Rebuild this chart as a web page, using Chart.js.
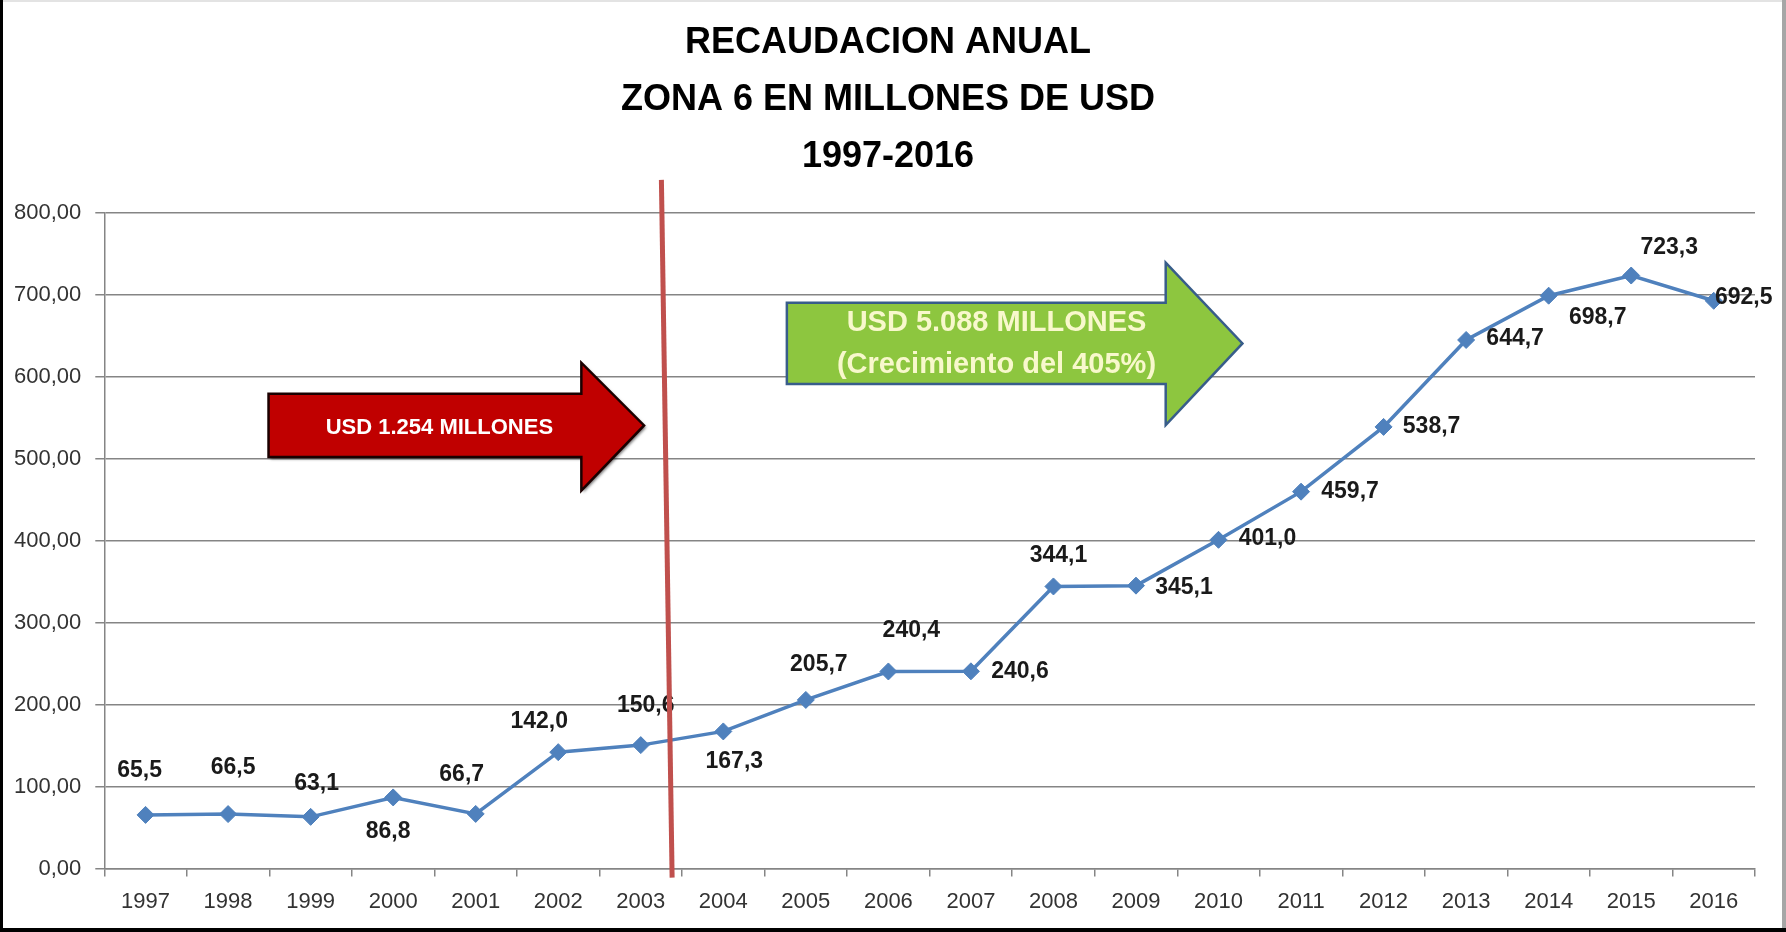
<!DOCTYPE html>
<html>
<head>
<meta charset="utf-8">
<script src="https://cdn.jsdelivr.net/npm/chart.js@4.4.1/dist/chart.umd.min.js"></script>
<style>
  html, body { margin: 0; padding: 0; background: #ffffff; }
  #wrap { width: 1786px; height: 932px; position: relative; }
  canvas { display: block; }
</style>
</head>
<body>
<div id="wrap"><canvas id="c" width="1786" height="932"></canvas></div>
<script>
// ---- data ----
const years = ['1997','1998','1999','2000','2001','2002','2003','2004','2005','2006',
               '2007','2008','2009','2010','2011','2012','2013','2014','2015','2016'];
const recaudacion = [65.5, 66.5, 63.1, 86.8, 66.7, 142.0, 150.6, 167.3, 205.7, 240.4,
                     240.6, 344.1, 345.1, 401.0, 459.7, 538.7, 644.7, 698.7, 723.3, 692.5];
const yTickValues = [0, 100, 200, 300, 400, 500, 600, 700, 800];
const titleLines = ['RECAUDACION ANUAL', 'ZONA 6 EN MILLONES DE USD', '1997-2016'];
const redArrowText = ['USD 1.254 MILLONES'];
const greenArrowText = ['USD 5.088 MILLONES', '(Crecimiento del 405%)'];

// ---- styles / placements (not data) ----
const FONT = '"Liberation Sans", Arial, sans-serif';
const LINE_COLOR = '#4f81bd';
// label offsets in pixels relative to each point
const labelOffsets = [
  [-6,-44],[5,-46],[6,-33],[-5,34],[-14,-39],[-19,-31],[5,-39],[11,30],[13,-35],[23,-41],
  [49,0],[5,-31],[48,2],[49,-1],[49,0],[48,0],[49,-1],[49,22],[38,-28],[30,-3]
];
// annotation geometry in scale units (x: category index, y: value)
const redArrow = { x0: 1.49, x1: 5.28, xTip: 6.04, yTop: 579, yBot: 502, headTop: 617, headBot: 461,
  fill: '#c00000', stroke: '#1a0000', textColor: '#ffffff', textX: 3.56, textY: [537], fontSize: 22 };
const greenArrow = { x0: 7.77, x1: 12.36, xTip: 13.29, yTop: 690, yBot: 591, headTop: 739, headBot: 541,
  fill: '#8dc63f', stroke: '#385d8a', textColor: '#f8f8cc', textX: 10.31, textY: [665, 614], fontSize: 29 };
const divider = { xTop: 6.25, yTop: 840, xBot: 6.38, yBot: -11, color: '#c0504d', width: 5 };
const TITLE_CENTER_SHIFT = 10;

function fmt(v, d) { return v.toFixed(d).replace('.', ','); }

const annotationPlugin = {
  id: 'annot',
  afterLayout(chart) {
    // centre the title on the whole picture, like the original
    if (chart.titleBlock) {
      chart.titleBlock.left = 0;
      chart.titleBlock.right = chart.width - TITLE_CENTER_SHIFT;
    }
  },
  beforeDraw(chart) {
    const ctx = chart.ctx;
    ctx.save();
    ctx.fillStyle = '#ffffff';
    ctx.fillRect(0, 0, chart.width, chart.height);
    ctx.restore();
  },
  beforeDatasetsDraw(chart) {
    const ctx = chart.ctx, xs = chart.scales.x, ys = chart.scales.y;
    [redArrow, greenArrow].forEach((a, i) => {
      const X = v => xs.getPixelForValue(v), Y = v => ys.getPixelForValue(v);
      const tipY = (Y(a.yTop) + Y(a.yBot)) / 2;
      ctx.save();
      ctx.beginPath();
      ctx.moveTo(X(a.x0), Y(a.yTop));
      ctx.lineTo(X(a.x1), Y(a.yTop));
      ctx.lineTo(X(a.x1), Y(a.headTop));
      ctx.lineTo(X(a.xTip), tipY);
      ctx.lineTo(X(a.x1), Y(a.headBot));
      ctx.lineTo(X(a.x1), Y(a.yBot));
      ctx.lineTo(X(a.x0), Y(a.yBot));
      ctx.closePath();
      if (i === 0) {
        ctx.shadowColor = 'rgba(0,0,0,0.55)';
        ctx.shadowOffsetX = 2; ctx.shadowOffsetY = 2; ctx.shadowBlur = 3;
      }
      ctx.fillStyle = a.fill;
      ctx.fill();
      ctx.shadowColor = 'transparent';
      ctx.lineWidth = 2.5;
      ctx.strokeStyle = a.stroke;
      ctx.lineJoin = 'miter';
      ctx.stroke();
      ctx.fillStyle = a.textColor;
      ctx.font = 'bold ' + a.fontSize + 'px ' + FONT;
      ctx.textAlign = 'center';
      ctx.textBaseline = 'middle';
      const texts = i === 0 ? redArrowText : greenArrowText;
      texts.forEach((t, k) => ctx.fillText(t, X(a.textX), Y(a.textY[k])));
      ctx.restore();
    });
  },
  afterDatasetsDraw(chart) {
    const ctx = chart.ctx;
    const meta = chart.getDatasetMeta(0);
    ctx.save();
    ctx.font = 'bold 23px ' + FONT;
    ctx.fillStyle = '#1a1a1a';
    ctx.textAlign = 'center';
    ctx.textBaseline = 'middle';
    meta.data.forEach((pt, i) => {
      const o = labelOffsets[i];
      ctx.fillText(fmt(recaudacion[i], 1), pt.x + o[0], pt.y + o[1]);
    });
    ctx.restore();
  },
  afterDraw(chart) {
    const ctx = chart.ctx, xs = chart.scales.x, ys = chart.scales.y;
    ctx.save();
    ctx.strokeStyle = divider.color;
    ctx.lineWidth = divider.width;
    ctx.beginPath();
    ctx.moveTo(xs.getPixelForValue(divider.xTop), ys.getPixelForValue(divider.yTop));
    ctx.lineTo(xs.getPixelForValue(divider.xBot), ys.getPixelForValue(divider.yBot));
    ctx.stroke();
    // frame
    const W = chart.width, H = chart.height;
    ctx.fillStyle = '#e3e3e3'; ctx.fillRect(0, 0, W, 2);
    ctx.fillStyle = '#a6a6a6'; ctx.fillRect(W - 4, 0, 4, H);
    ctx.fillStyle = '#000000'; ctx.fillRect(0, 0, 3, H);
    ctx.fillStyle = '#000000'; ctx.fillRect(0, H - 4, W, 4);
    ctx.restore();
  }
};

new Chart(document.getElementById('c'), {
  type: 'line',
  data: {
    labels: years,
    datasets: [{
      label: 'Recaudación',
      data: recaudacion,
      borderColor: LINE_COLOR,
      backgroundColor: LINE_COLOR,
      borderWidth: 3.5,
      tension: 0,
      pointStyle: 'rectRot',
      pointRadius: 8.5,
      pointBackgroundColor: LINE_COLOR,
      pointBorderColor: LINE_COLOR,
      pointBorderWidth: 1
    }]
  },
  options: {
    responsive: false,
    animation: false,
    devicePixelRatio: 1,
    layout: { padding: { left: 0, right: 31, top: 0, bottom: 5 } },
    plugins: {
      legend: { display: false },
      tooltip: { enabled: false },
      title: {
        display: true,
        text: titleLines,
        color: '#000000',
        font: { family: FONT, size: 36, weight: 'bold', lineHeight: 1.58 },
        padding: { top: 15, bottom: 27 }
      }
    },
    scales: {
      x: {
        type: 'category',
        offset: true,
        grid: { display: true, drawOnChartArea: false, drawTicks: true, tickLength: 8,
                offset: true, color: '#858585', lineWidth: 1.5 },
        border: { display: true, color: '#858585', width: 1.5 },
        ticks: { color: '#333333', font: { family: FONT, size: 22 }, padding: 12,
                 maxRotation: 0, autoSkip: false }
      },
      y: {
        min: 0, max: 800,
        afterBuildTicks(scale) { scale.ticks = yTickValues.map(v => ({ value: v })); },
        grid: { color: '#858585', lineWidth: 1.5, tickLength: 9, drawTicks: true },
        border: { display: true, color: '#858585', width: 1.5 },
        ticks: { color: '#333333', font: { family: FONT, size: 22 }, padding: 14,
                 callback: v => fmt(v, 2) }
      }
    }
  },
  plugins: [annotationPlugin]
});
</script>
</body>
</html>
